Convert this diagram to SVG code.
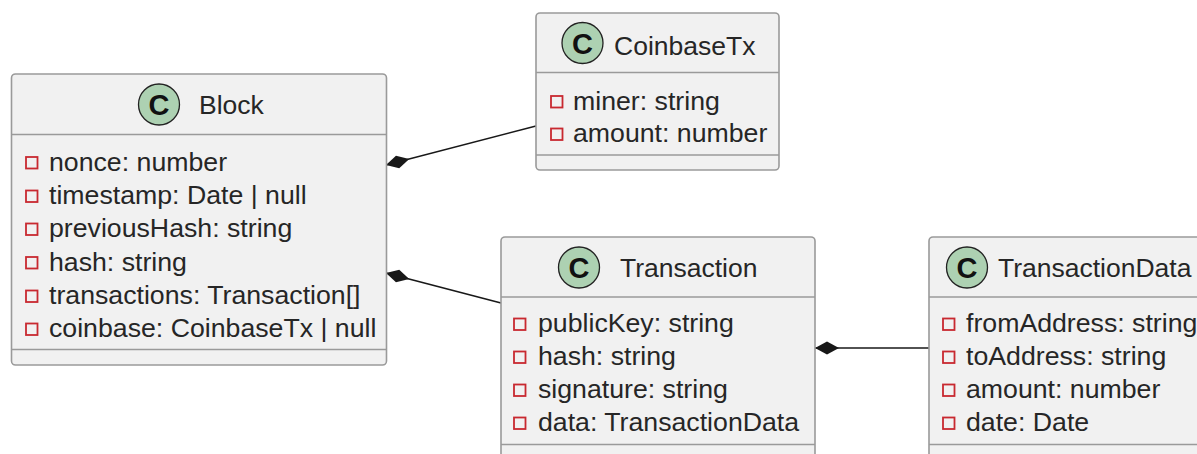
<svg xmlns="http://www.w3.org/2000/svg" width="1197" height="454" viewBox="0 0 1197 454">
<style>
.box{fill:#F1F1F1;stroke:#9a9a9a;stroke-width:1.6}
.div{stroke:#9a9a9a;stroke-width:1.6}
.circ{fill:#ADD1B2;stroke:#222;stroke-width:1.3}
.cl{font-family:"Liberation Sans",Arial,sans-serif;font-weight:bold;font-size:29px;fill:#111;text-anchor:middle}
.title{font-family:"Liberation Sans",Arial,sans-serif;font-size:26.5px;fill:#262626}
.attr{font-family:"Liberation Sans",Arial,sans-serif;font-size:26.7px;fill:#262626}
.icon{fill:none;stroke:#C82930;stroke-width:1.8}
.conn{stroke:#181818;stroke-width:1.6;fill:none}
</style>
<defs>
<marker id="diamond" markerUnits="userSpaceOnUse" markerWidth="30" markerHeight="16" refX="0" refY="7" orient="auto" viewBox="0 0 30 14">
<path d="M0,7 L12,0.5 L24,7 L12,13.5 Z" fill="#181818"/>
</marker>
</defs>
<g id="connectors">
<path class="conn" d="M386,165 L536,126" marker-start="url(#diamond)"/>
<path class="conn" d="M386,273 L501,303" marker-start="url(#diamond)"/>
<path class="conn" d="M815,348 L929,348" marker-start="url(#diamond)"/>
</g>
<g id="Block">
<rect class="box" x="11.5" y="74" width="375" height="291" rx="4"/>
<line class="div" x1="11.5" y1="134.5" x2="386.5" y2="134.5"/>
<line class="div" x1="11.5" y1="349.5" x2="386.5" y2="349.5"/>
<circle class="circ" cx="159" cy="104.5" r="20.5"/>
<text class="cl" x="159" y="115">C</text>
<text class="title" x="199" y="114">Block</text>
<rect class="icon" x="26" y="157" width="11.5" height="11.5"/>
<text class="attr" x="49" y="170.5">nonce: number</text>
<rect class="icon" x="26" y="190.5" width="11.5" height="11.5"/>
<text class="attr" x="49" y="204">timestamp: Date | null</text>
<rect class="icon" x="26" y="223.5" width="11.5" height="11.5"/>
<text class="attr" x="49" y="237">previousHash: string</text>
<rect class="icon" x="26" y="257" width="11.5" height="11.5"/>
<text class="attr" x="49" y="270.5">hash: string</text>
<rect class="icon" x="26" y="290.5" width="11.5" height="11.5"/>
<text class="attr" x="49" y="304">transactions: Transaction[]</text>
<rect class="icon" x="26" y="323.5" width="11.5" height="11.5"/>
<text class="attr" x="49" y="337">coinbase: CoinbaseTx | null</text>
</g>
<g id="CoinbaseTx">
<rect class="box" x="536" y="13" width="243" height="157" rx="4"/>
<line class="div" x1="536" y1="72.5" x2="779" y2="72.5"/>
<line class="div" x1="536" y1="155" x2="779" y2="155"/>
<circle class="circ" cx="582.5" cy="43" r="20.5"/>
<text class="cl" x="582.5" y="53.5">C</text>
<text class="title" x="614" y="55">CoinbaseTx</text>
<rect class="icon" x="551" y="96" width="11.5" height="11.5"/>
<text class="attr" x="573" y="109.5">miner: string</text>
<rect class="icon" x="551" y="128.5" width="11.5" height="11.5"/>
<text class="attr" x="573" y="142">amount: number</text>
</g>
<g id="Transaction">
<rect class="box" x="501" y="237" width="314" height="230" rx="4"/>
<line class="div" x1="501" y1="297" x2="815" y2="297"/>
<line class="div" x1="501" y1="444.5" x2="815" y2="444.5"/>
<circle class="circ" cx="579" cy="267.5" r="20.5"/>
<text class="cl" x="579" y="278">C</text>
<text class="title" x="620" y="277">Transaction</text>
<rect class="icon" x="514" y="318.5" width="11.5" height="11.5"/>
<text class="attr" x="538" y="332">publicKey: string</text>
<rect class="icon" x="514" y="351.5" width="11.5" height="11.5"/>
<text class="attr" x="538" y="365">hash: string</text>
<rect class="icon" x="514" y="384.5" width="11.5" height="11.5"/>
<text class="attr" x="538" y="398">signature: string</text>
<rect class="icon" x="514" y="417.5" width="11.5" height="11.5"/>
<text class="attr" x="538" y="431">data: TransactionData</text>
</g>
<g id="TransactionData">
<rect class="box" x="929" y="237" width="290" height="230" rx="4"/>
<line class="div" x1="929" y1="297" x2="1219" y2="297"/>
<line class="div" x1="929" y1="444.5" x2="1219" y2="444.5"/>
<circle class="circ" cx="967" cy="267.5" r="20.5"/>
<text class="cl" x="967" y="278">C</text>
<text class="title" x="998" y="277">TransactionData</text>
<rect class="icon" x="943" y="318.5" width="11.5" height="11.5"/>
<text class="attr" x="966" y="332">fromAddress: string</text>
<rect class="icon" x="943" y="351.5" width="11.5" height="11.5"/>
<text class="attr" x="966" y="365">toAddress: string</text>
<rect class="icon" x="943" y="384.5" width="11.5" height="11.5"/>
<text class="attr" x="966" y="398">amount: number</text>
<rect class="icon" x="943" y="417.5" width="11.5" height="11.5"/>
<text class="attr" x="966" y="431">date: Date</text>
</g>
</svg>
